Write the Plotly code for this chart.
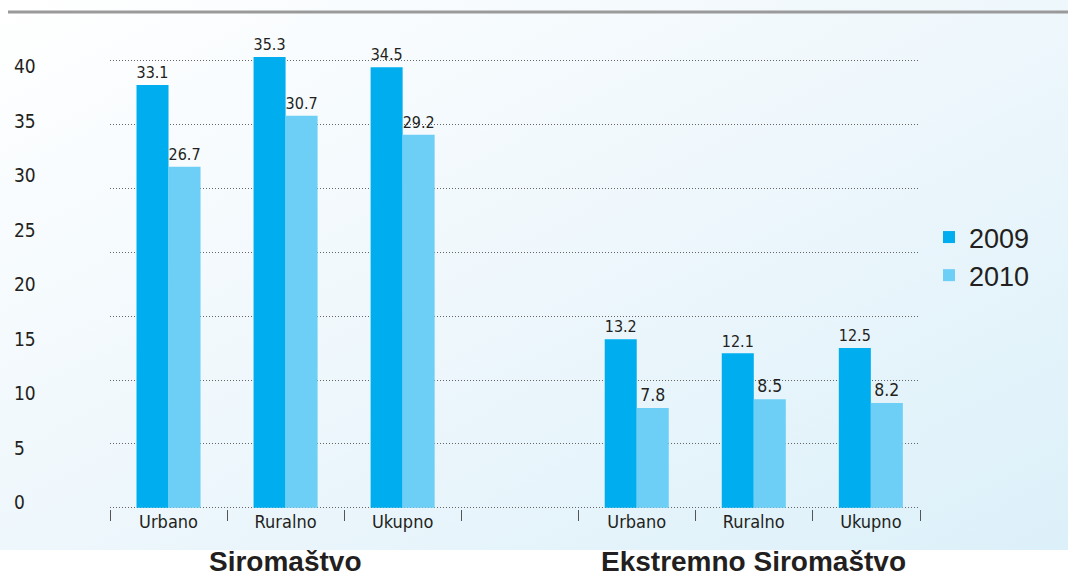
import base64
import plotly.graph_objects as go

# ---- data ----
groups = ["Siromaštvo", "Ekstremno Siromaštvo"]
categories = ["Urbano", "Ruralno", "Ukupno"]
years = ["2009", "2010"]
values_2009 = [33.1, 35.3, 34.5, 13.2, 12.1, 12.5]
values_2010 = [26.7, 30.7, 29.2, 7.8, 8.5, 8.2]
axis_tick_labels = [0, 5, 10, 15, 20, 25, 30, 35, 40]

# slot positions: each group has len(categories) slots plus one empty slot between groups
slot = len(categories) + 1
xpos = [g * slot + i for g in range(len(groups)) for i in range(len(categories))]
xlabels = [c for g in groups for c in categories]
group_centers = [g * slot + (len(categories) - 1) / 2 for g in range(len(groups))]
x_end = xpos[-1] + 0.42
boundaries = [p - 0.5 for p in range(int(xpos[-1]) + 1)] + [x_end]

W, H = 1068, 576
ML, MR, MT, MB = 10, 148, 30, 67
PW = W - ML - MR
PH = H - MT - MB
PB = MT + PH  # pixel y of plot bottom
x_dom0 = (110 - ML) / PW

TXT = "#231f20"
NARROW = "DejaVu Sans Condensed, Liberation Sans, Arial, sans-serif"
SANS = "Liberation Sans, Arial, Helvetica, sans-serif"

fig = go.Figure()
fig.add_trace(go.Bar(x=xpos, y=values_2009, name=years[0], marker_color="#00aeef",
                     marker_line_width=0,
                     texttemplate="%{y:.1f}", textposition="outside", cliponaxis=False,
                     textfont=dict(family=NARROW, size=17.5, color=TXT)))
fig.add_trace(go.Bar(x=xpos, y=values_2010, name=years[1], marker_color="#6dcff6",
                     marker_line_width=0,
                     texttemplate="%{y:.1f}", textposition="outside", cliponaxis=False,
                     textfont=dict(family=NARROW, size=17.5, color=TXT)))
# helper traces so the overlay axes are drawn
fig.add_trace(go.Scatter(x=[None], y=[None], yaxis="y2", showlegend=False, hoverinfo="skip"))
fig.add_trace(go.Scatter(x=[None], y=[None], xaxis="x2", showlegend=False, hoverinfo="skip"))

# background gradient
svg = ('<svg xmlns="http://www.w3.org/2000/svg" width="100" height="100" preserveAspectRatio="none">'
       '<defs><linearGradient id="g" x1="0" y1="0" x2="1" y2="1">'
       '<stop offset="0" stop-color="#ffffff"/><stop offset="0.5" stop-color="#eef7fc"/>'
       '<stop offset="1" stop-color="#dcf0f9"/></linearGradient></defs>'
       '<rect width="100" height="100" fill="url(#g)"/></svg>')
src = "data:image/svg+xml;base64," + base64.b64encode(svg.encode()).decode()
fig.add_layout_image(dict(source=src, xref="paper", yref="paper",
                          x=-ML / PW, y=1 + MT / PH, sizex=W / PW, sizey=550 / PH,
                          sizing="stretch", xanchor="left", yanchor="top", layer="below"))

bar_px = 12.77           # pixels per unit for bars
bar_min = -(PB - 507.7) / bar_px
lab_px = 10.9            # pixels per unit for printed axis labels
lab_min = -(PB - 502.7) / lab_px

fig.update_layout(
    width=W, height=H,
    margin=dict(l=ML, r=MR, t=MT, b=MB),
    paper_bgcolor="white", plot_bgcolor="rgba(0,0,0,0)",
    barmode="group", bargap=0.453, bargroupgap=0,
    showlegend=True,
    legend=dict(x=(929 - ML) / PW, y=(PB - 213) / PH, xanchor="left", yanchor="top",
                font=dict(family=SANS, size=27, color=TXT), bgcolor="rgba(0,0,0,0)",
                itemclick=False),
    xaxis=dict(domain=[x_dom0, 1], range=[-0.5, x_end], tickmode="array", tickvals=boundaries,
               ticktext=[""] * len(boundaries), ticks="outside", ticklen=11, tickcolor="#555",
               tickwidth=1, showgrid=False, zeroline=False, showline=False),
    xaxis2=dict(domain=[x_dom0, 1], range=[-0.5, x_end], overlaying="x", anchor="y", side="bottom",
                tickmode="array", tickvals=xpos, ticktext=xlabels, ticks="",
                tickfont=dict(family=NARROW, size=18, color=TXT), showgrid=False,
                zeroline=False, showline=False),
    yaxis=dict(range=[bar_min, bar_min + PH / bar_px], tickmode="linear", tick0=0, dtick=5,
               showticklabels=False, showgrid=True, gridcolor="#666", gridwidth=1,
               griddash="1px,2px", zeroline=False, showline=False),
    yaxis2=dict(range=[lab_min, lab_min + PH / lab_px], overlaying="y", anchor="free",
                side="right", position=3 / PW, tickmode="array", tickvals=axis_tick_labels,
                ticks="", showgrid=False, zeroline=False, showline=False,
                tickfont=dict(family=NARROW, size=19, color=TXT)),
)

for gname, gc in zip(groups, group_centers):
    fig.add_annotation(x=gc, xref="x", y=(PB - 561.7) / PH, yref="paper",
                       text="<b>" + gname + "</b>", showarrow=False, yanchor="middle",
                       font=dict(family=SANS, size=28, color=TXT))

# top grey rule
fig.add_shape(type="line", xref="paper", yref="paper", x0=-2 / PW, x1=(W - ML) / PW,
              y0=1 + (MT - 12) / PH, y1=1 + (MT - 12) / PH,
              line=dict(color="#9a9a9a", width=3))

fig.write_html("out.html", config={"displayModeBar": False},
               post_script="document.body.style.margin='0px';")
